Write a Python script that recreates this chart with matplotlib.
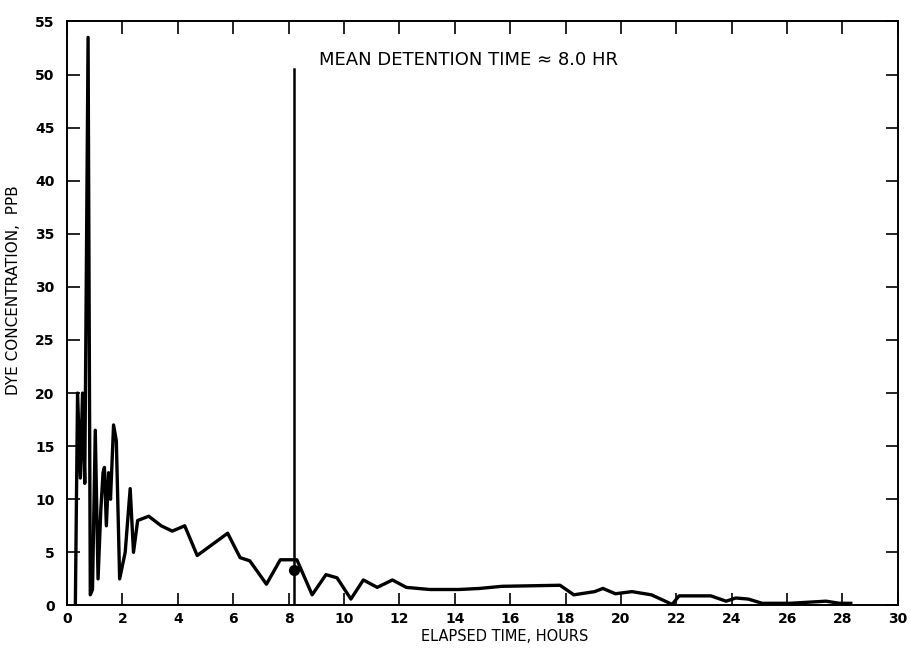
import numpy as np
import matplotlib.pyplot as plt

# elapsed time (hours) and dye concentration (ppb)
hours = [0.30, 0.38, 0.48, 0.56, 0.64, 0.76, 0.84, 0.92, 1.02, 1.12,
         1.22, 1.30, 1.35, 1.42, 1.50, 1.57, 1.68, 1.78, 1.90, 2.10,
         2.28, 2.40, 2.55, 2.75, 2.95, 3.40, 3.80, 4.25, 4.70, 5.80,
         6.25, 6.60, 7.20, 7.70, 8.30, 8.85, 9.35, 9.75, 10.25, 10.70,
         11.20, 11.75, 12.25, 13.10, 14.15, 14.90, 15.70, 17.80, 18.30, 19.05,
         19.35, 19.80, 20.40, 21.10, 21.85, 22.10, 23.25, 23.80, 24.15, 24.60,
         25.10, 26.10, 27.40, 27.90, 28.30]
conc = [0.0, 20.0, 12.0, 20.0, 11.5, 53.5, 1.0, 1.5, 16.5, 2.5,
        9.0, 12.5, 13.0, 7.5, 12.5, 10.0, 17.0, 15.5, 2.5, 5.0,
        11.0, 5.0, 8.0, 8.2, 8.4, 7.5, 7.0, 7.5, 4.7, 6.8,
        4.5, 4.2, 2.0, 4.3, 4.3, 1.0, 2.9, 2.6, 0.6, 2.4,
        1.7, 2.4, 1.7, 1.5, 1.5, 1.6, 1.8, 1.9, 1.0, 1.3,
        1.6, 1.1, 1.3, 1.0, 0.1, 0.9, 0.9, 0.4, 0.7, 0.6,
        0.2, 0.2, 0.4, 0.2, 0.2]

mean_time = 8.2
mean_conc = 3.3
line_top = 50.5
note = 'MEAN DETENTION TIME \u2248 8.0 HR'

plt.rcParams['font.family'] = ['DejaVu Sans']

fig = plt.figure(figsize=(9.12, 6.51), dpi=100)
ax = fig.add_axes([0.0735, 0.07, 0.911, 0.897])

ax.plot(hours, conc, color='black', lw=2.4, solid_joinstyle='round')
ax.plot([mean_time, mean_time], [0, line_top], color='black', lw=1.8)
ax.plot(mean_time, mean_conc, 'o', color='black', ms=7)
ax.text(9.1, 51.4, note, fontsize=13, va='center', ha='left')

ax.set_xlim(0, 30)
ax.set_ylim(0, 55)
ax.set_xticks(np.arange(0, 31, 2))
ax.set_yticks(np.arange(0, 56, 5))
ax.tick_params(direction='in', length=9, width=1.2, top=True, right=True,
               labelsize=10)
ax.tick_params(axis='x', pad=5)
ax.tick_params(axis='y', pad=9)
for lab in ax.get_xticklabels() + ax.get_yticklabels():
    lab.set_fontweight('bold')
for s in ax.spines.values():
    s.set_linewidth(1.4)

ax.set_xlabel('ELAPSED TIME, HOURS', fontsize=10.5, va='top')
ax.set_ylabel('DYE CONCENTRATION,  PPB', fontsize=11)
ax.xaxis.set_label_coords(0.527, -0.04)
ax.yaxis.set_label_coords(-0.056, 0.54)

fig.savefig('out.png', dpi=100)
